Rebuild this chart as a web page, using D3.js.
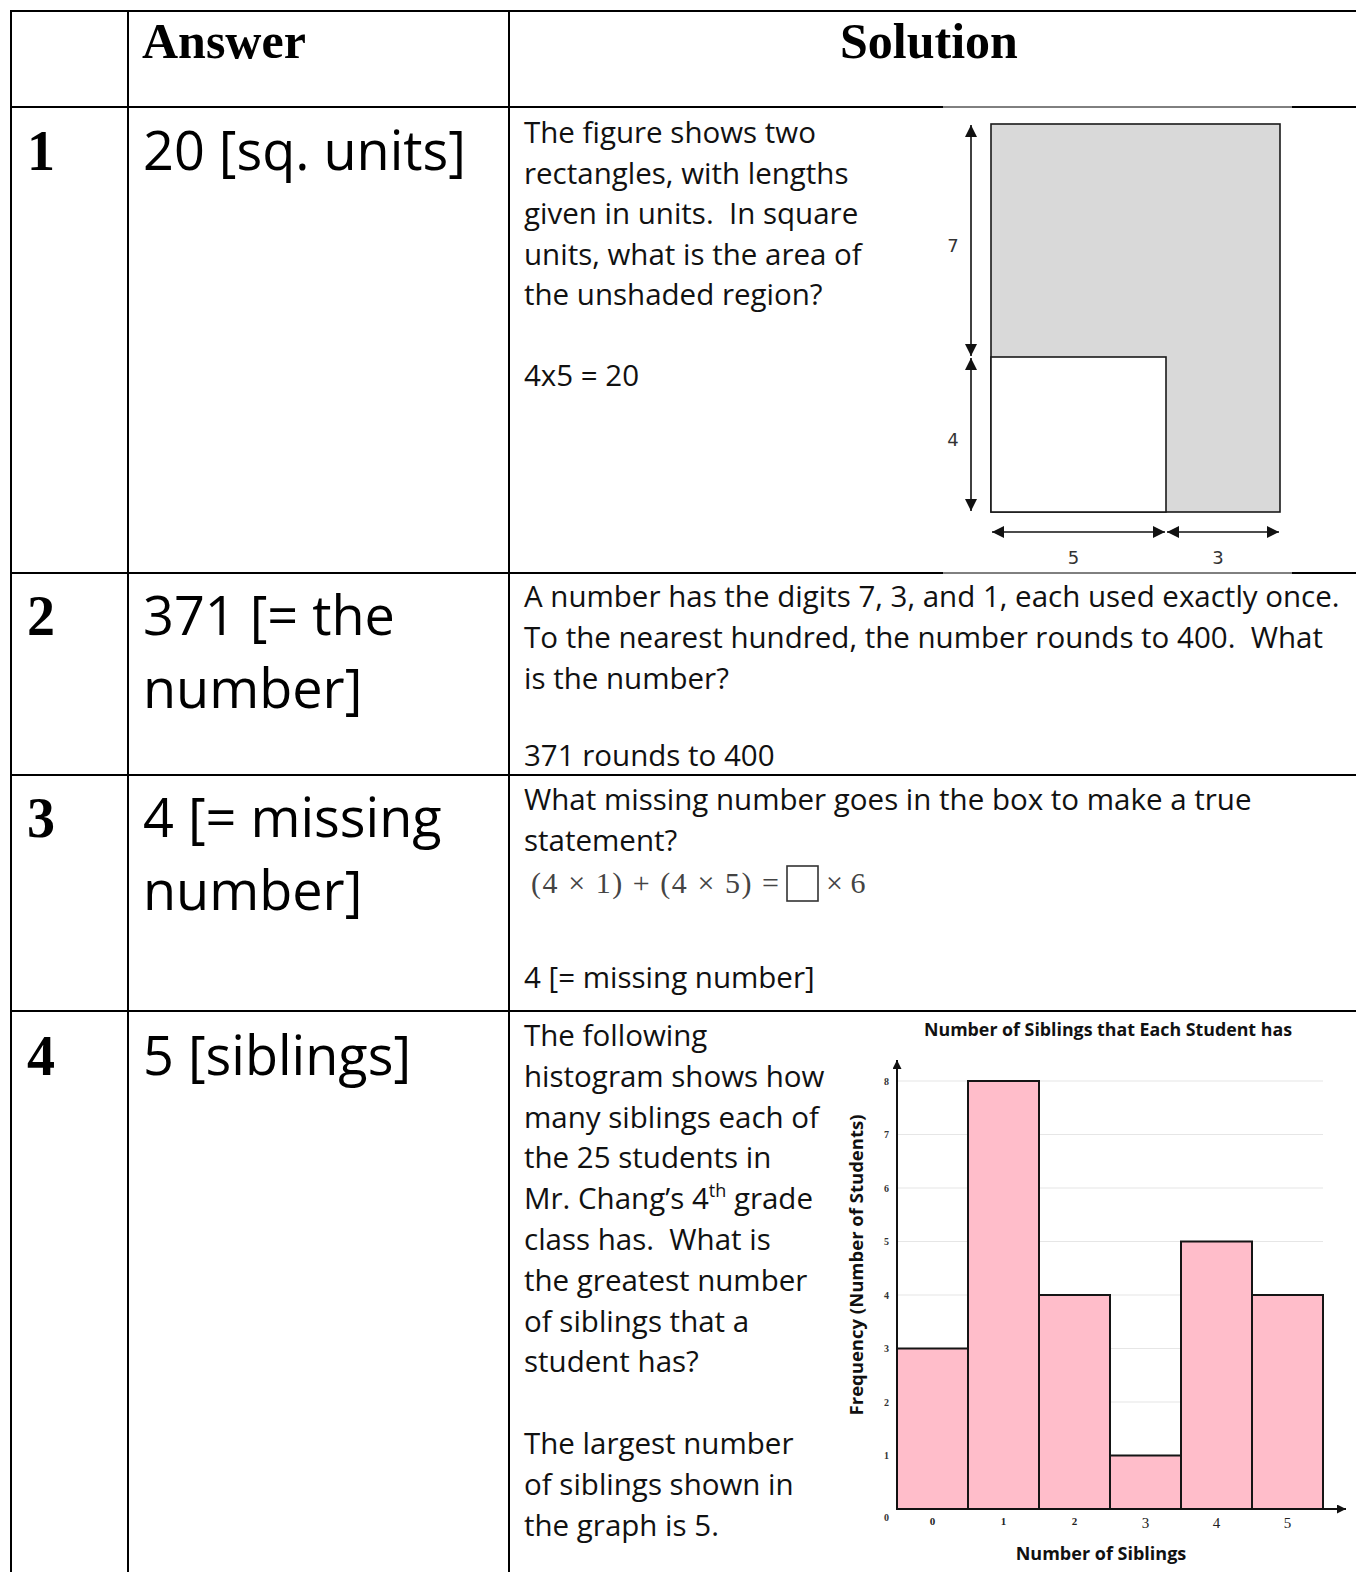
<!DOCTYPE html>
<html>
<head>
<meta charset="utf-8">
<script src="https://cdn.jsdelivr.net/npm/d3@7"></script>
<style>
body { margin: 0; background: #fff; }
text { white-space: pre; }
</style>
</head>
<body>
<svg id="page" width="1356" height="1572"></svg>
<script>
// histogram data (question 4)
var siblings = [0, 1, 2, 3, 4, 5];
var frequency = [3, 8, 4, 1, 5, 4];
var freq_ticks = [0, 1, 2, 3, 4, 5, 6, 7, 8];

// rectangle figure (question 1), in units
var rect_widths = [5, 3];
var rect_heights = [4, 7];   // bottom part, top part

var row_numbers = ["1", "2", "3", "4"];
var answers = [
    ["20 [sq. units]"],
    ["371 [= the", "number]"],
    ["4 [= missing", "number]"],
    ["5 [siblings]"]
];
var solution1 = ["The figure shows two", "rectangles, with lengths", "given in units.  In square",
    "units, what is the area of", "the unshaded region?", "", "4x5 = 20"];
var solution2 = ["A number has the digits 7, 3, and 1, each used exactly once.",
    "To the nearest hundred, the number rounds to 400.  What", "is the number?"];
var solution2_answer = "371 rounds to 400";
var solution3 = ["What missing number goes in the box to make a true", "statement?"];
var solution3_answer = "4 [= missing number]";
var solution4 = ["The following", "histogram shows how", "many siblings each of", "the 25 students in",
    "Mr. Chang\u2019s 4|th| grade", "class has.  What is", "the greatest number", "of siblings that a",
    "student has?", "", "The largest number", "of siblings shown in", "the graph is 5."];

var hand_font = "'Open Sans', sans-serif";
var serif_font = "'Liberation Serif', 'DejaVu Serif', serif";
var chart_font = "'Open Sans', sans-serif";

var svg = d3.select("#page");
var col_x = [11, 128, 509, 1356];
var row_y = [11, 107, 573, 775, 1011, 1572];

var defs = svg.append("defs");
function add_marker(id, size) {
    defs.append("marker")
        .attr("id", id)
        .attr("viewBox", "0 0 10 10")
        .attr("refX", 10).attr("refY", 5)
        .attr("markerWidth", size).attr("markerHeight", size)
        .attr("markerUnits", "userSpaceOnUse")
        .attr("orient", "auto-start-reverse")
        .append("path")
        .attr("d", "M0,0 L10,5 L0,10 z")
        .attr("fill", "#111");
}
add_marker("dim_arrow", 12);
add_marker("axis_arrow", 9);

//table grid
var grid = svg.append("g").attr("stroke", "#000").attr("stroke-width", 2);
row_y.slice(0, -1).forEach(function(y) {
    grid.append("line").attr("x1", col_x[0] - 1).attr("x2", col_x[3]).attr("y1", y).attr("y2", y);
});
col_x.slice(0, -1).forEach(function(x) {
    grid.append("line").attr("x1", x).attr("x2", x).attr("y1", row_y[0] - 1).attr("y2", row_y[5]);
});

//header
svg.append("text").attr("x", 142).attr("y", 58)
    .style("font", "bold 50px " + serif_font).text("Answer");
svg.append("text").attr("x", 929).attr("y", 58).attr("text-anchor", "middle")
    .style("font", "bold 50px " + serif_font).text("Solution");

//row numbers and answers
var num_base = [170, 635, 837, 1075];
row_numbers.forEach(function(n, i) {
    svg.append("text").attr("x", 27).attr("y", num_base[i])
        .style("font", "bold 56px " + serif_font).text(n);
    answers[i].forEach(function(line, j) {
        svg.append("text").attr("x", 143).attr("y", num_base[i] + j * 73)
            .style("font", "54px " + hand_font).text(line);
    });
});

function text_block(lines, x, y0, lh) {
    lines.forEach(function(line, i) {
        if (!line) return;
        var t = svg.append("text").attr("x", x).attr("y", y0 + i * lh)
            .style("font", "29.5px " + hand_font).attr("fill", "#111");
        if (line.indexOf("|") < 0) { t.text(line); return; }
        var parts = line.split("|");
        t.append("tspan").text(parts[0]);
        t.append("tspan").attr("dy", -12).style("font-size", "18px").text(parts[1]);
        t.append("tspan").attr("dy", 12).text(parts[2]);
    });
}

text_block(solution1, 524, 143, 40.5);
text_block(solution2, 524, 607, 41);
text_block([solution2_answer], 524, 766, 41);
text_block(solution3, 524, 810, 40.5);
text_block([solution3_answer], 524, 988, 40);
text_block(solution4, 524, 1046, 40.8);

//math expression in question 3
var math = svg.append("g").attr("fill", "#444").style("font", "30px " + serif_font);
math.append("text").attr("x", 531).attr("y", 893)
    .attr("textLength", 248).attr("lengthAdjust", "spacing")
    .text("(4 \u00d7 1) + (4 \u00d7 5) =");
math.append("rect").attr("x", 787).attr("y", 866).attr("width", 31).attr("height", 35)
    .attr("fill", "none").attr("stroke", "#333").attr("stroke-width", 1.6);
math.append("text").attr("x", 826).attr("y", 893).text("\u00d7 6");

//figure for question 1 (white backing covers the border like a pasted picture)
svg.append("rect").attr("x", 943).attr("y", 106).attr("width", 349).attr("height", 468).attr("fill", "#fff");
[107, 573].forEach(function(y) {
    svg.append("line").attr("x1", 943).attr("x2", 1292).attr("y1", y).attr("y2", y)
        .attr("stroke", "#000").attr("stroke-width", 1);
});

// the figure is not drawn to scale, so piecewise scales
var total_w = d3.sum(rect_widths), total_h = d3.sum(rect_heights);
var fx = d3.scaleLinear().domain([0, rect_widths[0], total_w]).range([991, 1166, 1280]);
var fy = d3.scaleLinear().domain([0, rect_heights[0], total_h]).range([512, 357, 124]);
var fig = svg.append("g");
fig.append("rect")
    .attr("x", fx(0)).attr("y", fy(total_h))
    .attr("width", fx(total_w) - fx(0)).attr("height", fy(0) - fy(total_h))
    .attr("fill", "#d9d9d9").attr("stroke", "#1a1a1a").attr("stroke-width", 1.6);
fig.append("rect")
    .attr("x", fx(0)).attr("y", fy(rect_heights[0]))
    .attr("width", fx(rect_widths[0]) - fx(0)).attr("height", fy(0) - fy(rect_heights[0]))
    .attr("fill", "#fff").attr("stroke", "#1a1a1a").attr("stroke-width", 1.6);

var h_start = 0;
rect_widths.forEach(function(w) {
    fig.append("line")
        .attr("x1", fx(h_start) + 1).attr("x2", fx(h_start + w) - 1)
        .attr("y1", 532).attr("y2", 532)
        .attr("stroke", "#111").attr("stroke-width", 1.6)
        .attr("marker-start", "url(#dim_arrow)").attr("marker-end", "url(#dim_arrow)");
    fig.append("text").attr("x", (fx(h_start) + fx(h_start + w)) / 2 - 5).attr("y", 564)
        .attr("text-anchor", "middle").attr("fill", "#333")
        .style("font", "18px 'DejaVu Sans', sans-serif").text(w);
    h_start += w;
});
var v_start = 0;
rect_heights.forEach(function(h) {
    fig.append("line")
        .attr("x1", 971).attr("x2", 971)
        .attr("y1", fy(v_start) - 1).attr("y2", fy(v_start + h) + 1)
        .attr("stroke", "#111").attr("stroke-width", 1.6)
        .attr("marker-start", "url(#dim_arrow)").attr("marker-end", "url(#dim_arrow)");
    fig.append("text").attr("x", 953).attr("y", (fy(v_start) + fy(v_start + h)) / 2 + 11)
        .attr("text-anchor", "middle").attr("fill", "#333")
        .style("font", "18px 'DejaVu Sans', sans-serif").text(h);
    v_start += h;
});

//histogram for question 4
var x = d3.scaleBand().domain(siblings).range([897, 1323]).padding(0);
var y = d3.scaleLinear().domain([0, 8]).range([1509, 1081]);
var hist = svg.append("g");

hist.append("text").attr("x", 1108).attr("y", 1036).attr("text-anchor", "middle")
    .style("font", "bold 17.8px " + chart_font).attr("fill", "#111")
    .text("Number of Siblings that Each Student has");

hist.append("g").selectAll("line")
    .data(freq_ticks.slice(1))
    .enter().append("line")
    .attr("x1", 897).attr("x2", 1323)
    .attr("y1", function(d) { return y(d); })
    .attr("y2", function(d) { return y(d); })
    .attr("stroke", "#e6e6e6").attr("stroke-width", 1.2);

hist.append("g").selectAll("rect")
    .data(frequency)
    .enter().append("rect")
    .attr("x", function(d, i) { return x(siblings[i]); })
    .attr("y", function(d) { return y(d); })
    .attr("width", x.bandwidth())
    .attr("height", function(d) { return y(0) - y(d); })
    .attr("fill", "#ffbdca").attr("stroke", "#151515").attr("stroke-width", 2);

//axes lines with arrows
hist.append("line").attr("x1", 897).attr("x2", 897).attr("y1", y(0)).attr("y2", 1060)
    .attr("stroke", "#111").attr("stroke-width", 2).attr("marker-end", "url(#axis_arrow)");
hist.append("line").attr("x1", 897).attr("x2", 1346).attr("y1", y(0)).attr("y2", y(0))
    .attr("stroke", "#111").attr("stroke-width", 2).attr("marker-end", "url(#axis_arrow)");

var y_axis = hist.append("g").attr("transform", "translate(897,0)")
    .call(d3.axisLeft(y).tickValues(freq_ticks).tickSize(0).tickPadding(8));
y_axis.select(".domain").remove();
y_axis.selectAll("text").style("font", "bold 10px " + serif_font).attr("fill", "#333")
    .attr("dy", function(d) { return d === 0 ? "1.1em" : "0.32em"; });

var x_axis = hist.append("g").attr("transform", "translate(0," + y(0) + ")")
    .call(d3.axisBottom(x).tickSize(0).tickPadding(8));
x_axis.select(".domain").remove();
x_axis.selectAll("text").attr("fill", "#222")
    .style("font-family", serif_font)
    .style("font-weight", function(d) { return d < 3 ? "bold" : "normal"; })
    .style("font-size", function(d) { return d < 3 ? "11px" : "15px"; });

hist.append("text").attr("x", 1101).attr("y", 1560).attr("text-anchor", "middle")
    .style("font", "bold 18px " + chart_font).attr("fill", "#111").text("Number of Siblings");
hist.append("text")
    .attr("transform", "translate(863,1265) rotate(-90)")
    .attr("text-anchor", "middle")
    .style("font", "bold 18.5px " + chart_font).attr("fill", "#111")
    .text("Frequency (Number of Students)");
</script>
</body>
</html>
